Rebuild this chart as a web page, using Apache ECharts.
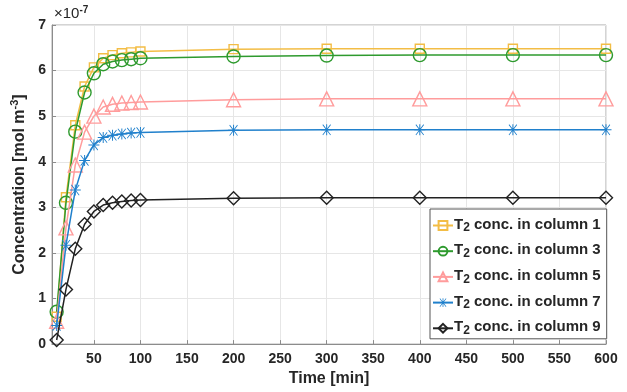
<!DOCTYPE html>
<html>
<head>
<meta charset="utf-8">
<script src="https://cdn.jsdelivr.net/npm/echarts@6/dist/echarts.min.js"></script>
<style>html,body{margin:0;padding:0;background:#fff}#c{width:627px;height:392px}</style>
</head>
<body>
<div id="c"></div>
<script>
var times = [10, 20, 30, 40, 50, 60, 70, 80, 90, 100, 200, 300, 400, 500, 600];
var col1 = [0.60, 3.22, 4.80, 5.65, 6.07, 6.27, 6.34, 6.38, 6.40, 6.42, 6.47, 6.48, 6.48, 6.48, 6.48];
var col3 = [0.71, 3.10, 4.66, 5.52, 5.94, 6.14, 6.20, 6.23, 6.25, 6.27, 6.31, 6.33, 6.34, 6.34, 6.34];
var col5 = [0.50, 2.55, 3.93, 4.65, 5.00, 5.20, 5.26, 5.29, 5.30, 5.31, 5.36, 5.38, 5.38, 5.38, 5.38];
var col7 = [0.41, 2.17, 3.38, 4.03, 4.37, 4.53, 4.58, 4.61, 4.63, 4.64, 4.69, 4.70, 4.70, 4.70, 4.70];
var col9 = [0.09, 1.20, 2.09, 2.63, 2.91, 3.05, 3.10, 3.13, 3.15, 3.16, 3.20, 3.21, 3.21, 3.21, 3.21];
var seriesNames = ['T_2 conc. in column 1', 'T_2 conc. in column 3', 'T_2 conc. in column 5', 'T_2 conc. in column 7', 'T_2 conc. in column 9'];
var xTicks = [50, 100, 150, 200, 250, 300, 350, 400, 450, 500, 550, 600];
var yTicks = [0, 1, 2, 3, 4, 5, 6, 7];

var starPath = 'path://M0 9.1L20 9.1L20 10.9L0 10.9Z M9.1 0L10.9 0L10.9 20L9.1 20Z M2.3 1.1L3.4 0L17.7 18.9L16.6 20Z M16.6 0L17.7 1.1L3.4 20L2.3 18.9Z';
var colors = ['#F3BD45', '#2E9A2E', '#FF9C9C', '#2080CC', '#222222'];
var symbols = ['rect', 'circle', 'triangle', starPath, 'diamond'];
var sizes = [9, 13, 14, 11, 13];
var datas = [col1, col3, col5, col7, col9];

function pairs(ys) { return times.map(function (t, i) { return [t, ys[i]]; }); }

var series = datas.map(function (d, i) {
  var star = i === 3;
  return {
    name: seriesNames[i], type: 'line', data: pairs(d),
    symbol: symbols[i], symbolSize: sizes[i], showAllSymbol: true,
    lineStyle: { color: colors[i], width: 1.5 },
    itemStyle: star ? { color: colors[i] } : { color: 'rgba(255,255,255,0)', borderColor: colors[i], borderWidth: 1.4 },
    emphasis: { disabled: true },
    z: 2 + i, animation: false
  };
});

var chart = echarts.init(document.getElementById('c'));
chart.setOption({
  backgroundColor: '#fff',
  animation: false,
  textStyle: { fontFamily: 'Liberation Sans' },
  grid: { left: 52, right: 21, top: 25, bottom: 46, show: true, borderColor: '#a8a8a8', borderWidth: 1 },
  xAxis: {
    type: 'value', min: 5, max: 600,
    name: 'Time [min]', nameLocation: 'middle', nameGap: 25,
    nameTextStyle: { fontSize: 16, fontWeight: 'bold', color: '#262626' },
    axisLine: { show: true, lineStyle: { color: '#8c8c8c' } },
    axisTick: { show: true, inside: true, length: 4, customValues: xTicks, lineStyle: { color: '#8c8c8c' } },
    axisLabel: { customValues: xTicks, fontSize: 14, fontWeight: 'bold', color: '#262626', margin: 8 },
    splitLine: { show: true, lineStyle: { color: '#e6e6e6' } }
  },
  yAxis: {
    type: 'value', min: 0, max: 7, interval: 1,
    name: 'Concentration [mol m{sup|-3}]', nameLocation: 'middle', nameGap: 22, nameRotate: 90,
    nameTextStyle: { fontSize: 16, fontWeight: 'bold', color: '#262626',
      rich: { sup: { fontSize: 11, fontWeight: 'bold', color: '#262626', padding: [0, 0, 9, 0] } } },
    axisLine: { show: true, lineStyle: { color: '#8c8c8c' } },
    axisTick: { show: true, inside: true, length: 4, lineStyle: { color: '#8c8c8c' } },
    axisLabel: { fontSize: 14, fontWeight: 'bold', color: '#262626', margin: 6,
      customValues: yTicks },
    splitLine: { show: true, lineStyle: { color: '#e6e6e6' } }
  },
  legend: {
    orient: 'vertical', left: 430, top: 209,
    data: seriesNames,
    itemWidth: 20, itemHeight: 11, itemGap: 2.7,
    padding: [2, 6, 2, 2],
    backgroundColor: '#fff', borderColor: '#555', borderWidth: 1, borderRadius: 0,
    formatter: function (n) { return '{a|T}{s|2}{a|' + n.slice(3) + '}'; },
    textStyle: {
      fontSize: 15, fontWeight: 'bold', color: '#262626', padding: [0, 0, 0, -4],
      rich: {
        a: { fontSize: 15, fontWeight: 'bold', color: '#262626', verticalAlign: 'top', lineHeight: 17 },
        s: { fontSize: 12, fontWeight: 'bold', color: '#262626', verticalAlign: 'bottom', lineHeight: 9, padding: [11, 0, 0, 0] }
      }
    }
  },
  graphic: [{
    type: 'text', left: 54, top: 5,
    style: { text: '×10{e|-7}', font: '15px Liberation Sans', fill: '#262626',
      rich: { e: { fontSize: 10, fontWeight: 'bold', fill: '#262626', padding: [0, 0, 8, 0] } } }
  }],
  series: series
});
</script>
</body>
</html>
